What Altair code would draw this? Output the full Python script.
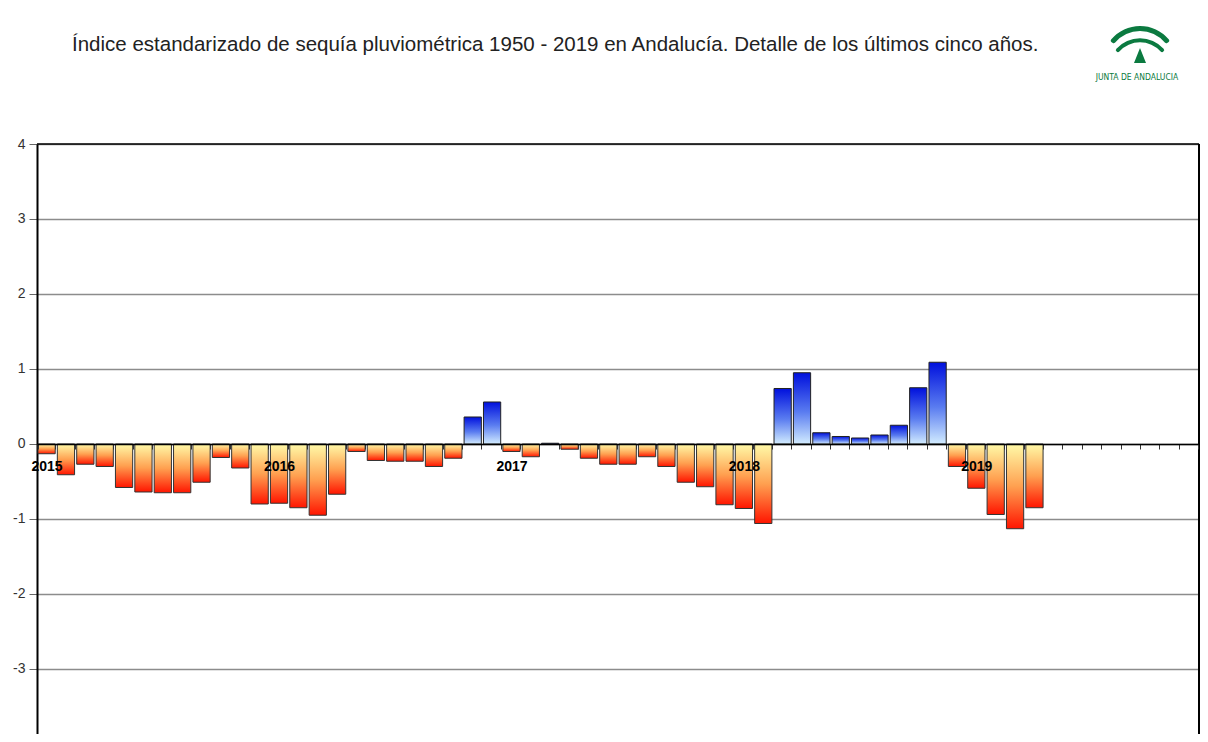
import altair as alt
import pandas as pd

# --- datos ---
anios = [2015, 2016, 2017, 2018, 2019]
meses = [f"{a}-{m:02d}" for a in anios for m in range(1, 13)]
valores_2015 = [-0.13, -0.41, -0.27, -0.30, -0.58, -0.64, -0.65, -0.65, -0.51, -0.18, -0.32, -0.80]
valores_2016 = [-0.79, -0.85, -0.95, -0.67, -0.10, -0.22, -0.23, -0.23, -0.30, -0.19, 0.36, 0.56]
valores_2017 = [-0.10, -0.17, 0.01, -0.07, -0.19, -0.27, -0.27, -0.17, -0.30, -0.51, -0.57, -0.81]
valores_2018 = [-0.86, -1.06, 0.74, 0.95, 0.15, 0.10, 0.08, 0.12, 0.25, 0.75, 1.09, -0.30]
valores_2019 = [-0.59, -0.94, -1.13, -0.85]
valores = valores_2015 + valores_2016 + valores_2017 + valores_2018 + valores_2019
y_ticks = [-4, -3, -2, -1, 0, 1, 2, 3, 4]

titulo = ("Índice estandarizado de sequía pluviométrica 1950 - 2019 en Andalucía. "
          "Detalle de los últimos cinco años.")
logo_texto = "JUNTA DE ANDALUCIA"

df = pd.DataFrame({"mes": meses[:len(valores)], "valor": valores})
uno = pd.DataFrame({"k": [0]})

FONT = "Liberation Sans"
VERDE = "#0b7a40"
PLOT_W = 1162
PLOT_H = 590
Y_MIN, Y_MAX = -3.867, 4
ZERO_OFFSET = -round(PLOT_H * (0 - Y_MIN) / (Y_MAX - Y_MIN))

x_enc = alt.X(
    "mes:O", sort=None,
    scale=alt.Scale(domain=meses, paddingInner=0.11, paddingOuter=0.05),
    axis=alt.Axis(
        title=None, offset=ZERO_OFFSET, tickBand="extent", labelAngle=0,
        labelExpr="substring(datum.value, 5, 7) == '01' ? substring(datum.value, 0, 4) : ''",
        labelOverlap=False, labelFontWeight="bold", labelFontSize=14, labelColor="#000",
        labelFont=FONT, labelPadding=10, tickSize=5, tickColor="#333", tickWidth=1,
        domainColor="#000", domainWidth=1.5, grid=False, zindex=1,
    ),
)
y_enc = alt.Y(
    "valor:Q",
    scale=alt.Scale(domain=[Y_MIN, Y_MAX], nice=False, zero=True),
    axis=alt.Axis(
        title=None, values=y_ticks, labelExpr="'' + datum.value",
        grid=True, gridColor="#8c8c8c", gridWidth=1.5,
        domainColor="#000", domainWidth=2, tickColor="#666", tickSize=8,
        labelPadding=4, labelFontSize=14, labelColor="#333", labelFont=FONT,
    ),
)

grad_neg = alt.Gradient(
    gradient="linear", x1=0, x2=0, y1=0, y2=1,
    stops=[alt.GradientStop(color="#fffaa8", offset=0),
           alt.GradientStop(color="#ffa050", offset=0.5),
           alt.GradientStop(color="#ff1500", offset=1)],
)
grad_pos = alt.Gradient(
    gradient="linear", x1=0, x2=0, y1=0, y2=1,
    stops=[alt.GradientStop(color="#0010dd", offset=0),
           alt.GradientStop(color="#5a7cf0", offset=0.55),
           alt.GradientStop(color="#d2ecff", offset=1)],
)

base = alt.Chart(df)
neg = base.transform_filter("datum.valor < 0").mark_bar(
    fill=grad_neg, stroke="#333", strokeWidth=1
).encode(x=x_enc, y=y_enc)
pos = base.transform_filter("datum.valor >= 0").mark_bar(
    fill=grad_pos, stroke="#222", strokeWidth=1
).encode(x=x_enc, y=y_enc)

borde_sup = alt.Chart(uno).mark_rule(color="#000", strokeWidth=1.5).encode(y=alt.datum(4))
borde_der = alt.Chart(uno).mark_rule(color="#000", strokeWidth=2).encode(
    x=alt.value(PLOT_W), y=alt.value(0), y2=alt.value(PLOT_H)
)

titulo_mark = alt.Chart(uno).mark_text(
    text=titulo, align="left", baseline="middle", font=FONT, fontSize=20.5, color="#222"
).encode(x=alt.value(35), y=alt.value(-99))

arco_ext = alt.Chart(uno).mark_arc(
    theta=5.356, theta2=7.210, radius=37.5, radius2=32.5, color=VERDE, cornerRadius=2
).encode(x=alt.value(1103), y=alt.value(-80.5))
arco_int = alt.Chart(uno).mark_arc(
    theta=5.387, theta2=7.179, radius=32, radius2=28, color=VERDE, cornerRadius=2
).encode(x=alt.value(1103), y=alt.value(-73.7))
triangulo = alt.Chart(uno).mark_point(
    shape="M0,-1L0.8,1L-0.8,1Z", filled=True, size=225, color=VERDE, opacity=1
).encode(x=alt.value(1103), y=alt.value(-88.5))
logo_txt = alt.Chart(uno).mark_text(
    text=logo_texto, align="center", baseline="middle", font="DejaVu Sans Condensed",
    fontSize=8.5, color=VERDE
).encode(x=alt.value(1100), y=alt.value(-67))

chart = alt.layer(
    neg, pos, borde_sup, borde_der, titulo_mark, arco_ext, arco_int, triangulo, logo_txt
).properties(
    width=PLOT_W, height=PLOT_H,
    autosize=alt.AutoSizeParams(type="none"),
    padding={"left": 29, "top": 136, "right": 1, "bottom": 0},
).configure_view(strokeWidth=0)

chart.save("out.html", embed_options={"renderer": "svg", "actions": False})
